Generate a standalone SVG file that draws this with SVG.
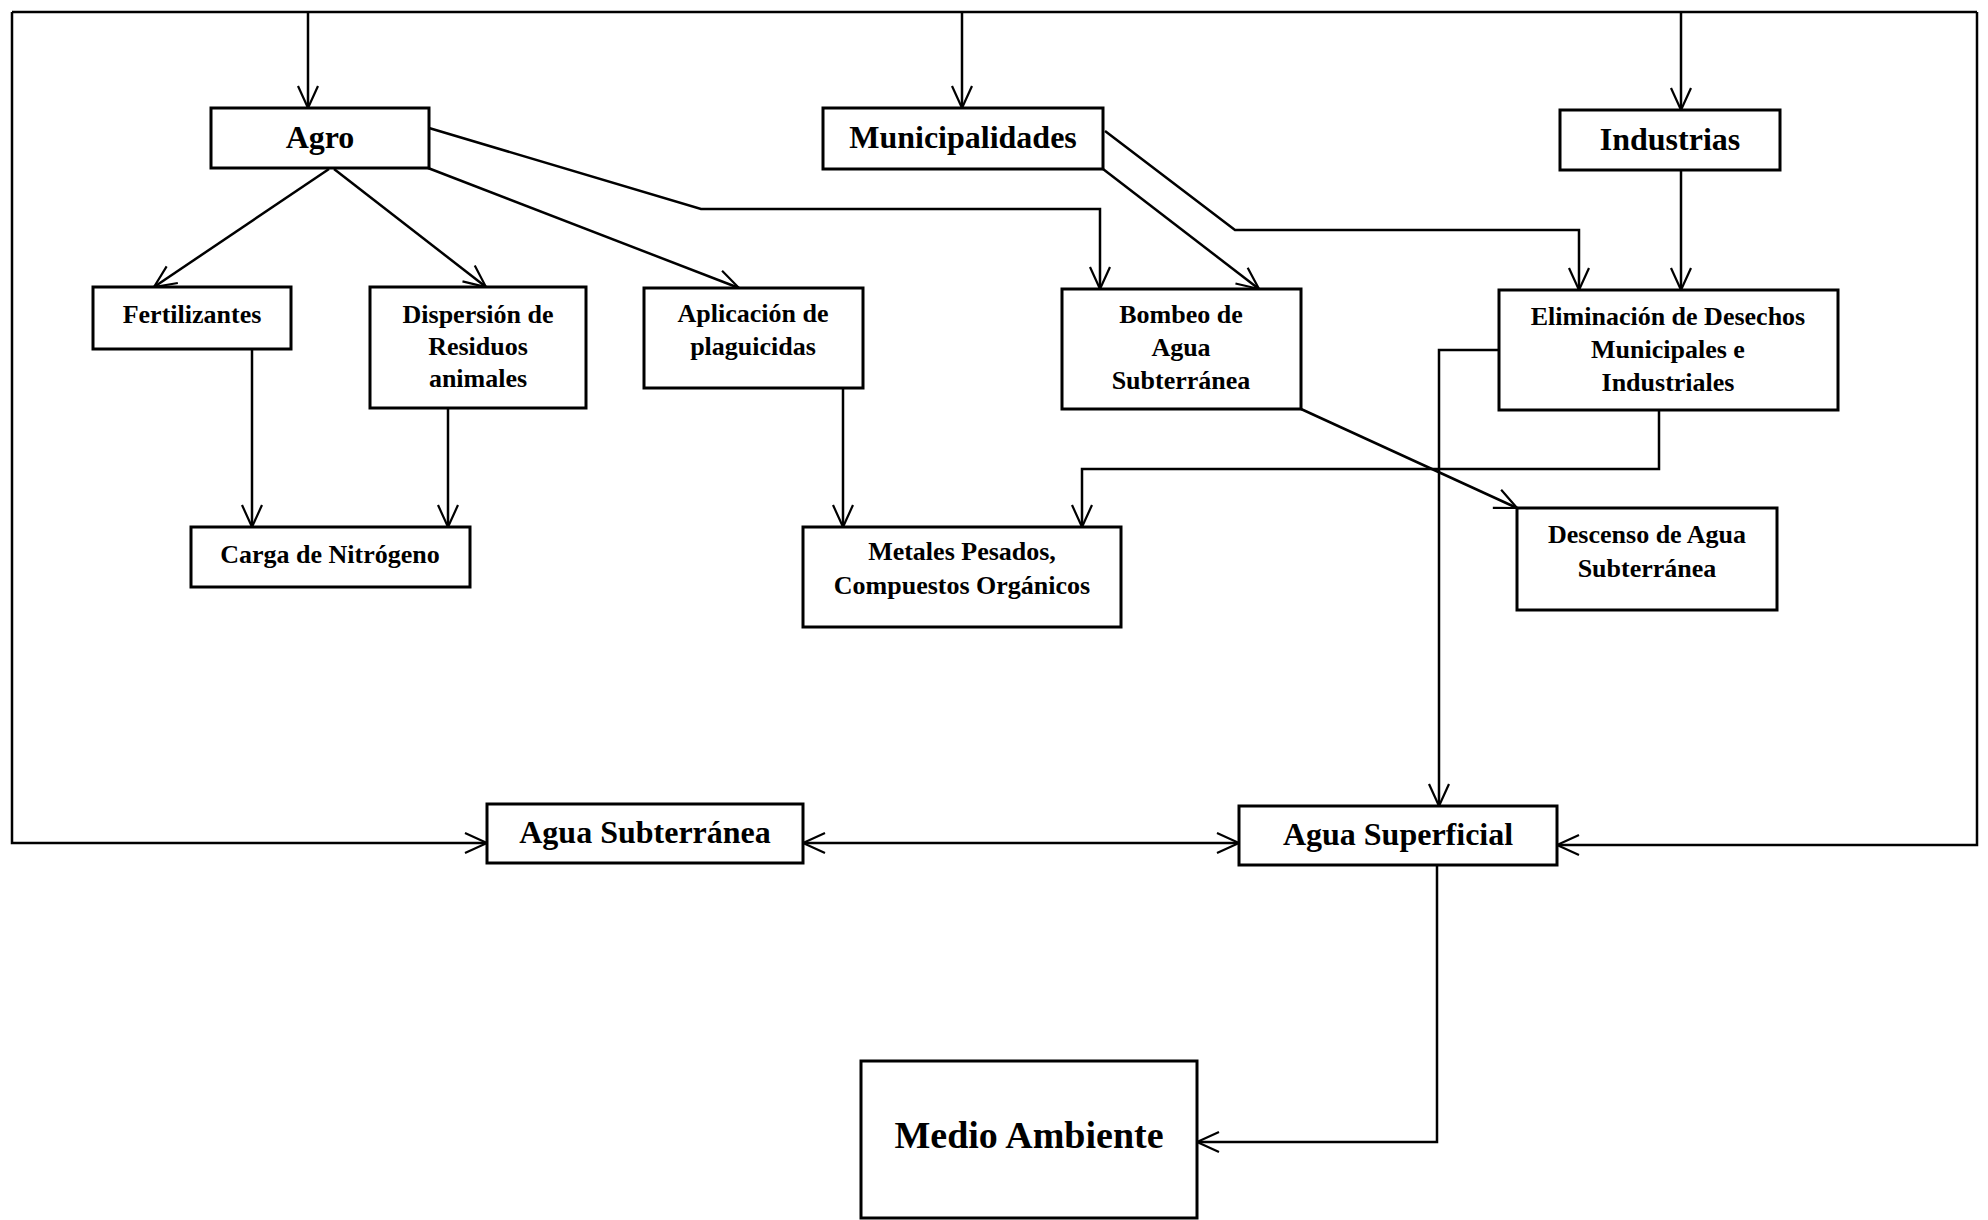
<svg xmlns="http://www.w3.org/2000/svg" width="1988" height="1220" viewBox="0 0 1988 1220">
<style>
.box{fill:#fff;stroke:#000;stroke-width:3}
.ln{fill:none;stroke:#000;stroke-width:2.5}
.t{font-family:"Liberation Serif","Times New Roman",serif;font-weight:bold;fill:#000;text-anchor:middle}
.s{font-size:26px}
.l{font-size:32px}
.xl{font-size:38px}
</style>
<defs>
<marker id="arr" viewBox="0 0 26 24" refX="24" refY="12" markerWidth="26" markerHeight="24" markerUnits="userSpaceOnUse" orient="auto-start-reverse">
<path d="M2,2 L24,12 L2,22" fill="none" stroke="#000" stroke-width="2.2"/>
</marker>
</defs>
<rect width="1988" height="1220" fill="#fff"/>
<g id="connectors">
<path class="ln" d="M12,12 L1977,12"/>
<path class="ln" d="M12,12 L12,843 L487,843" marker-end="url(#arr)"/>
<path class="ln" d="M1977,12 L1977,845 L1557,845" marker-end="url(#arr)"/>
<path class="ln" d="M308,12 L308,108" marker-end="url(#arr)"/>
<path class="ln" d="M962,12 L962,108" marker-end="url(#arr)"/>
<path class="ln" d="M1681,12 L1681,110" marker-end="url(#arr)"/>
<path class="ln" d="M329,169 L154,287" marker-end="url(#arr)"/>
<path class="ln" d="M334,169 L486,287" marker-end="url(#arr)"/>
<path class="ln" d="M428,168 L739,288" marker-end="url(#arr)"/>
<path class="ln" d="M429,128 L701,209 L1100,209 L1100,289" marker-end="url(#arr)"/>
<path class="ln" d="M1103,169 L1259,289" marker-end="url(#arr)"/>
<path class="ln" d="M1105,131 L1235,230 L1579,230 L1579,290" marker-end="url(#arr)"/>
<path class="ln" d="M1681,170 L1681,290" marker-end="url(#arr)"/>
<path class="ln" d="M252,349 L252,527" marker-end="url(#arr)"/>
<path class="ln" d="M448,408 L448,527" marker-end="url(#arr)"/>
<path class="ln" d="M843,388 L843,527" marker-end="url(#arr)"/>
<path class="ln" d="M1659,410 L1659,469 L1082,469 L1082,527" marker-end="url(#arr)"/>
<path class="ln" d="M1499,350 L1439,350 L1439,806" marker-end="url(#arr)"/>
<path class="ln" d="M1301,409 L1517,508" marker-end="url(#arr)"/>
<path class="ln" d="M803,843 L1239,843" marker-start="url(#arr)" marker-end="url(#arr)"/>
<path class="ln" d="M1437,865 L1437,1142 L1197,1142" marker-end="url(#arr)"/>
</g>
<g id="agro"><rect class="box" x="211" y="108" width="218" height="60"/><text class="t l" x="320" y="148">Agro</text></g>
<g id="municipalidades"><rect class="box" x="823" y="108" width="280" height="61"/><text class="t l" x="963" y="148">Municipalidades</text></g>
<g id="industrias"><rect class="box" x="1560" y="110" width="220" height="60"/><text class="t l" x="1670" y="150">Industrias</text></g>
<g id="fertilizantes"><rect class="box" x="93" y="287" width="198" height="62"/><text class="t s" x="192" y="323">Fertilizantes</text></g>
<g id="dispersion"><rect class="box" x="370" y="287" width="216" height="121"/><text class="t s" x="478" y="323">Dispersión de</text><text class="t s" x="478" y="355">Residuos</text><text class="t s" x="478" y="387">animales</text></g>
<g id="aplicacion"><rect class="box" x="644" y="288" width="219" height="100"/><text class="t s" x="753" y="322">Aplicación de</text><text class="t s" x="753" y="355">plaguicidas</text></g>
<g id="bombeo"><rect class="box" x="1062" y="289" width="239" height="120"/><text class="t s" x="1181" y="323">Bombeo de</text><text class="t s" x="1181" y="356">Agua</text><text class="t s" x="1181" y="389">Subterránea</text></g>
<g id="eliminacion"><rect class="box" x="1499" y="290" width="339" height="120"/><text class="t s" x="1668" y="325">Eliminación de Desechos</text><text class="t s" x="1668" y="358">Municipales e</text><text class="t s" x="1668" y="391">Industriales</text></g>
<g id="carga"><rect class="box" x="191" y="527" width="279" height="60"/><text class="t s" x="330" y="563">Carga de Nitrógeno</text></g>
<g id="metales"><rect class="box" x="803" y="527" width="318" height="100"/><text class="t s" x="962" y="560">Metales Pesados,</text><text class="t s" x="962" y="594">Compuestos Orgánicos</text></g>
<g id="descenso"><rect class="box" x="1517" y="508" width="260" height="102"/><text class="t s" x="1647" y="543">Descenso de Agua</text><text class="t s" x="1647" y="577">Subterránea</text></g>
<g id="agua-subterranea"><rect class="box" x="487" y="804" width="316" height="59"/><text class="t l" x="645" y="843">Agua Subterránea</text></g>
<g id="agua-superficial"><rect class="box" x="1239" y="806" width="318" height="59"/><text class="t l" x="1398" y="845">Agua Superficial</text></g>
<g id="medio-ambiente"><rect class="box" x="861" y="1061" width="336" height="157"/><text class="t xl" x="1029" y="1148">Medio Ambiente</text></g>
</svg>
